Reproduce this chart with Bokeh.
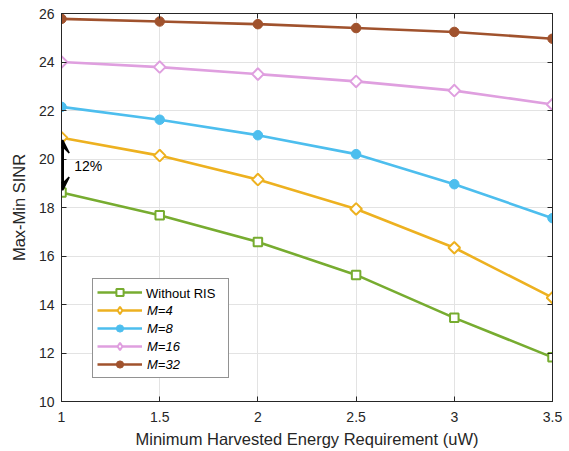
from bokeh.plotting import figure
from bokeh.models import (Range1d, LinearAxis, FixedTicker, Legend, LegendItem,
                          Arrow, VeeHead, Label, ColumnDataSource)
from bokeh.embed import file_html
from bokeh.resources import INLINE
import numpy as np

# ---- data ----
x_vals = [1, 1.5, 2, 2.5, 3, 3.5]
without_ris = [18.62, 17.68, 16.58, 15.22, 13.45, 11.82]
m4 = [20.88, 20.14, 19.15, 17.94, 16.34, 14.28]
m8 = [22.15, 21.62, 20.98, 20.20, 18.96, 17.56]
m16 = [24.00, 23.79, 23.50, 23.20, 22.82, 22.25]
m32 = [25.78, 25.67, 25.56, 25.40, 25.24, 24.96]
x_ticks = [1, 1.5, 2, 2.5, 3, 3.5]
x_tick_labels = ["1", "1.5", "2", "2.5", "3", "3.5"]
y_ticks = [10, 12, 14, 16, 18, 20, 22, 24, 26]
series_names = ["Without RIS", "M=4", "M=8", "M=16", "M=32"]
gain_text = "12%"

FONT = "Liberation Sans"
TXT = "#262626"

p = figure(width=569, height=451, output_backend="svg", toolbar_location=None,
           x_range=Range1d(1, 3.5), y_range=Range1d(10, 26),
           min_border_left=61, min_border_right=17, min_border_top=13,
           min_border_bottom=50)
p.background_fill_color = "white"
p.border_fill_color = "white"
p.outline_line_color = TXT
p.outline_line_width = 1
p.outline_line_alpha = 1

for ax in (p.xaxis[0], p.yaxis[0]):
    ax.major_tick_in = 5
    ax.major_tick_out = 0
    ax.minor_tick_in = 0
    ax.minor_tick_out = 0
    ax.axis_line_color = TXT
    ax.major_tick_line_color = TXT
    ax.major_label_text_font = FONT
    ax.major_label_text_font_size = "14px"
    ax.major_label_text_color = TXT
    ax.axis_label_text_font = FONT
    ax.axis_label_text_font_size = "16.5px"
    ax.axis_label_text_font_style = "normal"
    ax.axis_label_text_color = TXT

p.xaxis.ticker = FixedTicker(ticks=x_ticks)
p.xaxis.major_label_overrides = {t: s for t, s in zip(x_ticks, x_tick_labels)}
p.yaxis.ticker = FixedTicker(ticks=y_ticks)
p.xaxis.axis_label = "Minimum Harvested Energy Requirement (uW)"
p.yaxis.axis_label = "Max-Min SINR"
p.xaxis.major_label_standoff = 10
p.xaxis.axis_label_standoff = 5
p.yaxis.major_label_standoff = 7
p.yaxis.axis_label_standoff = 8

# top / right tick-only axes (box with ticks)
top_ax = LinearAxis(ticker=FixedTicker(ticks=x_ticks), major_tick_in=5, major_tick_out=0,
                    minor_tick_in=0, minor_tick_out=0, major_label_text_font_size="0px",
                    major_label_standoff=0, axis_line_color=TXT, major_tick_line_color=TXT)
right_ax = LinearAxis(ticker=FixedTicker(ticks=y_ticks), major_tick_in=5, major_tick_out=0,
                      minor_tick_in=0, minor_tick_out=0, major_label_text_font_size="0px",
                      major_label_standoff=0, axis_line_color=TXT, major_tick_line_color=TXT)
p.add_layout(top_ax, "above")
p.add_layout(right_ax, "right")

p.xgrid.ticker = FixedTicker(ticks=x_ticks)
p.ygrid.ticker = FixedTicker(ticks=y_ticks)
p.grid.grid_line_color = "#e3e3e3"
p.grid.grid_line_width = 1

colors = ["#77AC30", "#EDB120", "#4DBEEE", "#DF9FDF", "#A0522D"]
data = [without_ris, m4, m8, m16, m32]
markers = ["square", "diamond", "circle", "diamond", "circle"]

renderers = []
for name, ys, c, mk in zip(series_names, data, colors, markers):
    src = ColumnDataSource(dict(x=x_vals, y=ys))
    ln = p.line("x", "y", source=src, line_color=c, line_width=2.6)
    if mk == "square":
        sc = p.scatter("x", "y", source=src, marker="square", size=8.5,
                       line_color=c, line_width=2, fill_color="white")
        renderers.append([ln, sc])
    elif mk == "diamond":
        p.ngon("x", "y", source=src, radius=5.8, radius_units="screen", n=4,
               line_color=c, line_width=2, fill_color="white")
        # legend-only marker (not drawn in the plot area)
        leg_src = ColumnDataSource(dict(x=[np.nan], y=[np.nan]))
        sc = p.scatter("x", "y", source=leg_src, marker="diamond", size=15,
                       line_color=c, line_width=2, fill_color="white")
        renderers.append([ln, sc])
    else:
        sc = p.scatter("x", "y", source=src, marker="circle", size=9.5,
                       line_color=c, line_width=1, fill_color=c)
        renderers.append([ln, sc])

# Legend A (italic labels, first row label drawn by legend B)
dummy = p.line([], [], line_alpha=0)
items_a = [LegendItem(label=" ", renderers=renderers[0])]
for name, r in zip(series_names[1:], renderers[1:]):
    items_a.append(LegendItem(label=name, renderers=r))

LEG_X, LEG_Y = 31, 23
PAD, GH, GW = 4, 18, 45
legend_a = Legend(items=items_a, location=(LEG_X, LEG_Y), orientation="vertical",
                  padding=PAD, spacing=0, glyph_height=GH, glyph_width=GW,
                  label_height=GH, label_width=77, label_standoff=5, margin=0,
                  label_text_font=FONT, label_text_font_size="13px",
                  label_text_font_style="italic", label_text_color="black",
                  border_line_color=TXT, border_line_width=1,
                  background_fill_color="white", background_fill_alpha=1)
p.add_layout(legend_a, "center")

h_a = 2 * PAD + 5 * GH
h_b = 2 * (PAD - 1) + GH
legend_b = Legend(items=[LegendItem(label=series_names[0], renderers=[dummy])],
                  location=(LEG_X + 1, LEG_Y + h_a - 1 - h_b), orientation="vertical",
                  padding=PAD - 1, spacing=0, glyph_height=GH, glyph_width=GW,
                  label_height=GH, label_standoff=5, margin=0,
                  label_text_font=FONT, label_text_font_size="13px",
                  label_text_font_style="normal", label_text_color="black",
                  border_line_alpha=0, background_fill_alpha=0)
p.add_layout(legend_b, "center")

# double arrow annotation
ax_x = x_vals[0] + 0.006
y_lo = without_ris[0] + 0.1
y_hi = m4[0] - 0.1
p.segment(x0=[ax_x], y0=[y_lo + 0.3], x1=[ax_x], y1=[y_hi - 0.3],
          line_color="black", line_width=2.5)
arr = Arrow(x_start=ax_x, y_start=y_lo, x_end=ax_x, y_end=y_hi,
            line_color="black", line_width=2.5,
            start=VeeHead(size=13, fill_color="black", line_color="black", line_width=1.5),
            end=VeeHead(size=13, fill_color="black", line_color="black", line_width=1.5))
p.add_layout(arr)
p.add_layout(Label(x=x_vals[0] + 0.065, y=(without_ris[0] + m4[0]) / 2 - 0.05,
                   text=gain_text, text_font=FONT, text_font_size="14px",
                   text_color="black", text_baseline="middle", text_align="left"))

open("out.html", "w").write(file_html(p, INLINE))
